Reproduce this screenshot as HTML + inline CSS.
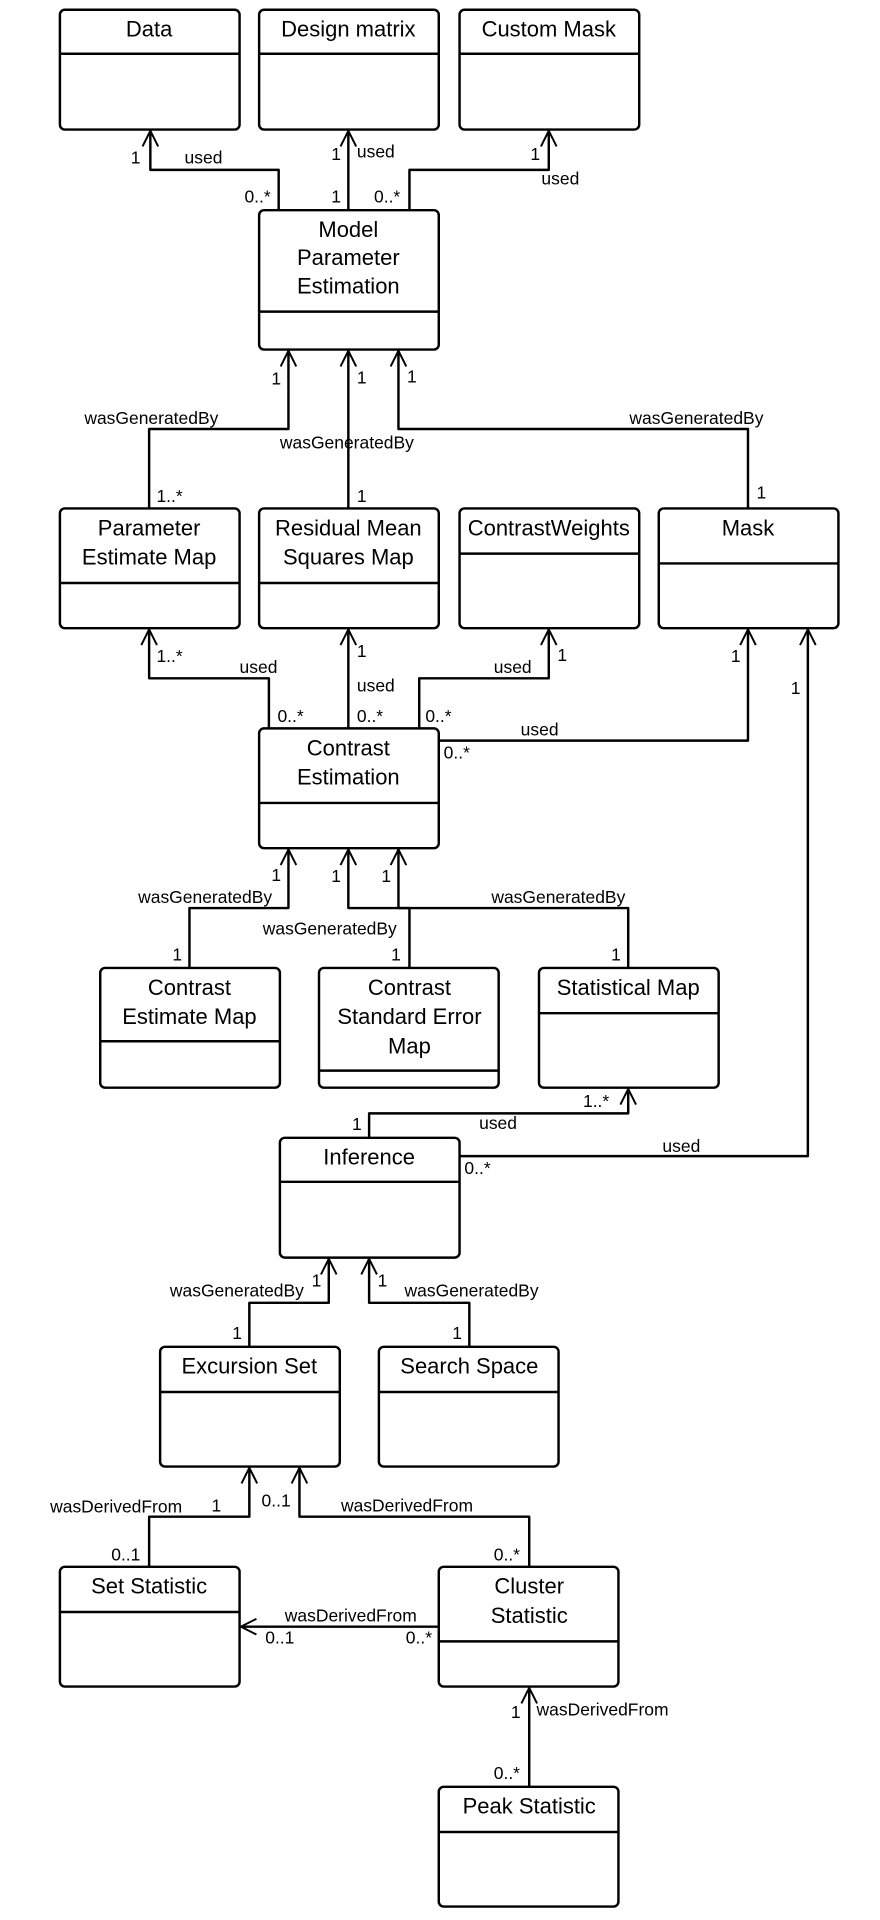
<!DOCTYPE html>
<html><head><meta charset="utf-8"><style>
html,body{margin:0;padding:0;background:#fff;width:880px;height:1920px;overflow:hidden}
svg{display:block}
text{font-family:"Liberation Sans",Arial,sans-serif;fill:#000}
.t{font-size:18px;text-anchor:middle}
.l{font-size:14.3px;dominant-baseline:middle}
.b{fill:#fff;stroke:#000;stroke-width:2}
.c{fill:none;stroke:#000;stroke-width:2;stroke-linejoin:round}
</style></head><body>
<svg width="880" height="1920" viewBox="0 0 720 1571" xmlns="http://www.w3.org/2000/svg">
<defs>
<marker id="a" viewBox="0 0 20 20" refX="18" refY="10" markerWidth="16" markerHeight="16" markerUnits="userSpaceOnUse" orient="auto">
<path d="M2,2 L18,10 L2,18" fill="none" stroke="#000" stroke-width="2"/></marker>
</defs>
<g id="boxes">
<rect class="b" x="49" y="8" width="147" height="98" rx="4"/><line class="c" x1="49" y1="44" x2="196" y2="44"/><text class="t" x="122" y="30">Data</text>
<rect class="b" x="212" y="8" width="147" height="98" rx="4"/><line class="c" x1="212" y1="44" x2="359" y2="44"/><text class="t" x="285" y="30">Design matrix</text>
<rect class="b" x="376" y="8" width="147" height="98" rx="4"/><line class="c" x1="376" y1="44" x2="523" y2="44"/><text class="t" x="449" y="30">Custom Mask</text>
<rect class="b" x="212" y="172" width="147" height="114" rx="4"/><line class="c" x1="212" y1="255" x2="359" y2="255"/><text class="t" x="285" y="194">Model</text><text class="t" x="285" y="217">Parameter</text><text class="t" x="285" y="240">Estimation</text>
<rect class="b" x="49" y="416" width="147" height="98" rx="4"/><line class="c" x1="49" y1="477" x2="196" y2="477"/><text class="t" x="122" y="438">Parameter</text><text class="t" x="122" y="462">Estimate Map</text>
<rect class="b" x="212" y="416" width="147" height="98" rx="4"/><line class="c" x1="212" y1="477" x2="359" y2="477"/><text class="t" x="285" y="438">Residual Mean</text><text class="t" x="285" y="462">Squares Map</text>
<rect class="b" x="376" y="416" width="147" height="98" rx="4"/><line class="c" x1="376" y1="453" x2="523" y2="453"/><text class="t" x="449" y="438">ContrastWeights</text>
<rect class="b" x="539" y="416" width="147" height="98" rx="4"/><line class="c" x1="539" y1="461" x2="686" y2="461"/><text class="t" x="612" y="438">Mask</text>
<rect class="b" x="212" y="596" width="147" height="98" rx="4"/><line class="c" x1="212" y1="657" x2="359" y2="657"/><text class="t" x="285" y="618">Contrast</text><text class="t" x="285" y="642">Estimation</text>
<rect class="b" x="82" y="792" width="147" height="98" rx="4"/><line class="c" x1="82" y1="852" x2="229" y2="852"/><text class="t" x="155" y="814">Contrast</text><text class="t" x="155" y="838">Estimate Map</text>
<rect class="b" x="261" y="792" width="147" height="98" rx="4"/><line class="c" x1="261" y1="876" x2="408" y2="876"/><text class="t" x="335" y="814">Contrast</text><text class="t" x="335" y="838">Standard Error</text><text class="t" x="335" y="862">Map</text>
<rect class="b" x="441" y="792" width="147" height="98" rx="4"/><line class="c" x1="441" y1="829" x2="588" y2="829"/><text class="t" x="514" y="814">Statistical Map</text>
<rect class="b" x="229" y="931" width="147" height="98" rx="4"/><line class="c" x1="229" y1="967" x2="376" y2="967"/><text class="t" x="302" y="953">Inference</text>
<rect class="b" x="131" y="1102" width="147" height="98" rx="4"/><line class="c" x1="131" y1="1139" x2="278" y2="1139"/><text class="t" x="204" y="1124">Excursion Set</text>
<rect class="b" x="310" y="1102" width="147" height="98" rx="4"/><line class="c" x1="310" y1="1139" x2="457" y2="1139"/><text class="t" x="384" y="1124">Search Space</text>
<rect class="b" x="49" y="1282" width="147" height="98" rx="4"/><line class="c" x1="49" y1="1319" x2="196" y2="1319"/><text class="t" x="122" y="1304">Set Statistic</text>
<rect class="b" x="359" y="1282" width="147" height="98" rx="4"/><line class="c" x1="359" y1="1343" x2="506" y2="1343"/><text class="t" x="433" y="1304">Cluster</text><text class="t" x="433" y="1328">Statistic</text>
<rect class="b" x="359" y="1462" width="147" height="98" rx="4"/><line class="c" x1="359" y1="1499" x2="506" y2="1499"/><text class="t" x="433" y="1484">Peak Statistic</text>
</g>
<g marker-end="url(#a)">
<polyline class="c" points="228,172 228,139 123,139 123,107"/>
<polyline class="c" points="285,172 285,107"/>
<polyline class="c" points="335,172 335,139 449,139 449,107"/>
<polyline class="c" points="122,416 122,351 236,351 236,287"/>
<polyline class="c" points="285,416 285,287"/>
<polyline class="c" points="612,416 612,351 326,351 326,287"/>
<polyline class="c" points="220,596 220,555 122,555 122,515"/>
<polyline class="c" points="285,596 285,515"/>
<polyline class="c" points="343,596 343,555 449,555 449,515"/>
<polyline class="c" points="359,606 612,606 612,515"/>
<polyline class="c" points="376,946 661,946 661,515"/>
<polyline class="c" points="155,792 155,743 236,743 236,695"/>
<polyline class="c" points="335,792 335,743 285,743 285,695"/>
<polyline class="c" points="514,792 514,743 326,743 326,695"/>
<polyline class="c" points="302,931 302,911 514,911 514,891"/>
<polyline class="c" points="204,1102 204,1066 269,1066 269,1030"/>
<polyline class="c" points="384,1102 384,1066 302,1066 302,1030"/>
<polyline class="c" points="122,1282 122,1241 204,1241 204,1201"/>
<polyline class="c" points="433,1282 433,1241 245,1241 245,1201"/>
<polyline class="c" points="359,1331 197,1331"/>
<polyline class="c" points="433,1462 433,1381"/>
</g>
<g class="l">
<text class="l" x="107" y="130">1</text><text class="l" x="151" y="130">used</text><text class="l" x="200" y="162">0..*</text>
<text class="l" x="271" y="127">1</text><text class="l" x="292" y="125">used</text><text class="l" x="271" y="162">1</text>
<text class="l" x="434" y="127">1</text><text class="l" x="443" y="147">used</text><text class="l" x="306" y="162">0..*</text>
<text class="l" x="69" y="343">wasGeneratedBy</text><text class="l" x="222" y="311">1</text><text class="l" x="128" y="407">1..*</text>
<text class="l" x="229" y="363">wasGeneratedBy</text><text class="l" x="292" y="310">1</text><text class="l" x="292" y="407">1</text>
<text class="l" x="515" y="343">wasGeneratedBy</text><text class="l" x="333" y="309">1</text><text class="l" x="619" y="404">1</text>
<text class="l" x="128" y="538">1..*</text><text class="l" x="196" y="547">used</text><text class="l" x="227" y="587">0..*</text>
<text class="l" x="292" y="534">1</text><text class="l" x="292" y="562">used</text><text class="l" x="292" y="587">0..*</text>
<text class="l" x="456" y="537">1</text><text class="l" x="404" y="547">used</text><text class="l" x="348" y="587">0..*</text>
<text class="l" x="598" y="538">1</text><text class="l" x="426" y="598">used</text><text class="l" x="363" y="617">0..*</text>
<text class="l" x="647" y="564">1</text><text class="l" x="542" y="939">used</text><text class="l" x="380" y="957">0..*</text>
<text class="l" x="113" y="735">wasGeneratedBy</text><text class="l" x="222" y="717">1</text><text class="l" x="141" y="782">1</text>
<text class="l" x="271" y="718">1</text><text class="l" x="215" y="761">wasGeneratedBy</text><text class="l" x="320" y="782">1</text>
<text class="l" x="402" y="735">wasGeneratedBy</text><text class="l" x="312" y="718">1</text><text class="l" x="500" y="782">1</text>
<text class="l" x="288" y="921">1</text><text class="l" x="392" y="920">used</text><text class="l" x="477" y="902">1..*</text>
<text class="l" x="139" y="1057">wasGeneratedBy</text><text class="l" x="255" y="1049">1</text><text class="l" x="190" y="1092">1</text>
<text class="l" x="309" y="1049">1</text><text class="l" x="331" y="1057">wasGeneratedBy</text><text class="l" x="370" y="1092">1</text>
<text class="l" x="41" y="1234">wasDerivedFrom</text><text class="l" x="173" y="1233">1</text><text class="l" x="91" y="1273">0..1</text>
<text class="l" x="214" y="1229">0..1</text><text class="l" x="279" y="1233">wasDerivedFrom</text><text class="l" x="404" y="1273">0..*</text>
<text class="l" x="233" y="1323">wasDerivedFrom</text><text class="l" x="217" y="1341">0..1</text><text class="l" x="332" y="1341">0..*</text>
<text class="l" x="418" y="1402">1</text><text class="l" x="439" y="1400">wasDerivedFrom</text><text class="l" x="404" y="1452">0..*</text>
</g>
</svg>
</body></html>
